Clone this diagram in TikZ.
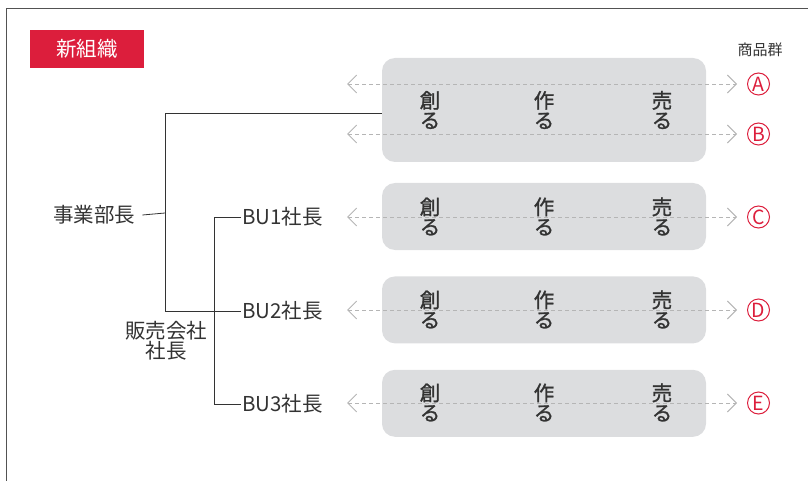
\documentclass[tikz,border=0pt]{standalone}
\usepackage{fontspec}
\setmainfont{Noto Sans CJK JP}
\newfontfamily\taskfont[FakeBold=1.2]{Noto Sans CJK JP}
\usepackage{xcolor}
\usepackage{tikz}
\usetikzlibrary{positioning,arrows.meta}

\definecolor{brandred}{HTML}{DC1E3C}
\definecolor{barfill}{HTML}{DCDDDF}
\definecolor{flowgray}{HTML}{B5B5B5}
\definecolor{ink}{HTML}{333333}

\begin{document}
\begin{tikzpicture}[
        x=1pt, y=-1pt,
        node distance=26pt and 20pt,
        every node/.style={inner sep=1pt, text=ink},
        frame/.style={draw=ink!85, line width=1pt},
        title/.style={fill=brandred, text=white, minimum width=114pt, minimum height=38pt, font=\fontsize{20.5}{21}\selectfont},
        bar/.style={fill=barfill, rounded corners=13pt, minimum width=324pt},
        task/.style={align=center, font=\fontsize{20.5}{20}\taskfont},
        role/.style={anchor=west, font=\fontsize{20.5}{21}\selectfont},
        org/.style={draw=ink, line width=0.8pt},
        flow/.style={draw=flowgray, line width=0.9pt, dash pattern=on 4pt off 3pt, shorten >=10pt,
            {Straight Barb[length=9pt,width=18pt]}-{Straight Barb[length=9pt,width=18pt]}},
        item/.style={circle, draw=brandred, line width=1pt, minimum size=22pt, inner sep=0pt, text=brandred, font=\fontsize{19.5}{20}\selectfont},
    ]
        \useasboundingbox (0,0) rectangle (808,481);
        \draw[frame] (6,481) -- (6,8.5) -- (808,8.5);

        \node [title] (title) at (87,49) {新組織};
        \node [font=\fontsize{15}{16}\selectfont] (group) at (760,50) {商品群};

        % business units
        \node [bar, minimum height=104pt] (bar1) at (544,110) {};
        \node [bar, minimum height=67pt] (bar2) at (544,216.5) {};
        \node [bar, minimum height=67pt, below=26pt of bar2] (bar3) {};
        \node [bar, minimum height=67pt, below=26pt of bar3] (bar4) {};

        \node [task] (create1) at (430,110) {創\\る};
        \node [task] (make1) at (544,110) {作\\る};
        \node [task] (sell1) at (662,110) {売\\る};
        \node [task] (create2) at (430,216.5) {創\\る};
        \node [task] (make2) at (544,216.5) {作\\る};
        \node [task] (sell2) at (662,216.5) {売\\る};
        \node [task] (create3) at (430,309.5) {創\\る};
        \node [task] (make3) at (544,309.5) {作\\る};
        \node [task] (sell3) at (662,309.5) {売\\る};
        \node [task] (create4) at (430,402.5) {創\\る};
        \node [task] (make4) at (544,402.5) {作\\る};
        \node [task] (sell4) at (662,402.5) {売\\る};

        % product groups
        \node [item] (itemA) at (758.5,84) {A};
        \node [item] (itemB) at (758.5,134) {B};
        \node [item] (itemC) at (758.5,217) {C};
        \node [item] (itemD) at (758.5,310) {D};
        \node [item] (itemE) at (758.5,403) {E};

        \coordinate (fromA) at (347,84);
        \coordinate (fromB) at (347,134);
        \coordinate (fromC) at (347,217);
        \coordinate (fromD) at (347,310);
        \coordinate (fromE) at (347,403);

        \draw [flow] (fromA) -- (itemA);
        \draw [flow] (fromB) -- (itemB);
        \draw [flow] (fromC) -- (itemC);
        \draw [flow] (fromD) -- (itemD);
        \draw [flow] (fromE) -- (itemE);

        % heads
        \node [role] (head) at (52,215) {事業部長};
        \node [role] (bu1) at (241,217) {BU1社長};
        \node [role] (bu2) at (241,311) {BU2社長};
        \node [role] (bu3) at (241,404) {BU3社長};
        \node [align=center, font=\fontsize{20.5}{20}\selectfont] (sales) at (166,341) {販売会社\\社長};

        \coordinate (hub) at (165,213);
        \coordinate (bus) at (214,217);

        \draw [org] ([xshift=6pt]head.east) -- (hub);
        \draw [org] (bar1.west |- 0,113) -- (165,113) -- (165,311) -- (bu2.west);
        \draw [org] (bu1.west) -- (bus) -- (bus |- bu3.west) -- (bu3.west);
    \end{tikzpicture}
\end{document}
